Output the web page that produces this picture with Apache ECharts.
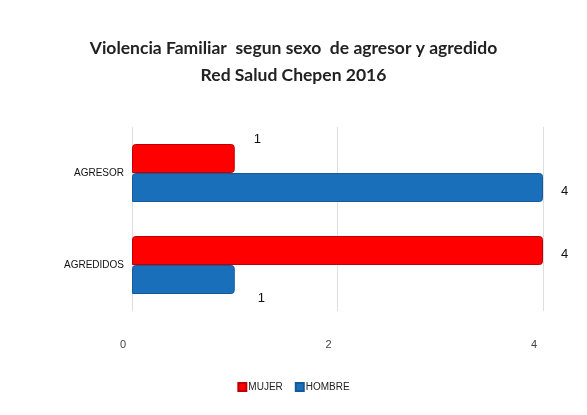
<!DOCTYPE html>
<html>
<head>
<meta charset="utf-8">
<script src="https://cdn.jsdelivr.net/npm/echarts@6/dist/echarts.min.js"></script>
<style>
	html,body{
		margin:0;
		padding:0;
		background:#fff;
	}
	#main{
		width:587px;
		height:415px;
	}
</style>
</head>
<body>
<div id="main"></div>
<script type="text/javascript">
// datos del grafico
var categorias = ['AGRESOR', 'AGREDIDOS'];
var mujer = [1, 4];
var hombre = [4, 1];
var ticks = [0, 2, 4];

// posicion de las etiquetas (leader labels del original)
var offMujer = [[14, -19], [13, 4]];
var offHombre = [[13, 4], [18, 19]];

function conEtiqueta(valores, offsets){
	var out = [];
	for(var i = 0; i < valores.length; i++){
		out.push({value: valores[i], label: {offset: offsets[i]}});
	}
	return out;
}

var myChart = echarts.init(document.getElementById('main'));
var option = {
	animation: false,
	backgroundColor: '#fff',
	title: {
		left: 'center',
		top: 30,
		text: 'Violencia Familiar  segun sexo  de agresor y agredido\nRed Salud Chepen 2016',
		textStyle: {
			fontFamily: 'Lato',
			fontWeight: 'bold',
			fontSize: 17.5,
			lineHeight: 27,
			color: '#222'
		}
	},
	legend: {
		left: 'center',
		top: 377,
		itemWidth: 8,
		itemHeight: 8,
		itemGap: 12,
		icon: 'rect',
		textStyle: {fontFamily: 'Liberation Sans', fontSize: 10, color: '#222', padding: [0, 0, 0, -3]},
		data: ['MUJER', 'HOMBRE']
	},
	grid: {
		left: 132,
		right: 44,
		top: 127,
		bottom: 104
	},
	xAxis: {
		type: 'value',
		min: ticks[0],
		max: ticks[ticks.length - 1],
		interval: ticks[1] - ticks[0],
		axisLine: {show: false},
		axisTick: {show: false},
		axisLabel: {margin: 28, color: '#444', fontFamily: 'Liberation Sans', fontSize: 11, padding: [0, 18, 0, 0]},
		splitLine: {lineStyle: {color: '#dedede'}}
	},
	yAxis: {
		type: 'category',
		inverse: true,
		data: categorias,
		axisLine: {show: false},
		axisTick: {show: false},
		axisLabel: {margin: 8, color: '#111', fontFamily: 'Liberation Sans', fontSize: 10}
	},
	series: [
		{
			name: 'MUJER',
			type: 'bar',
			barWidth: 29,
			barGap: '0%',
			data: conEtiqueta(mujer, offMujer),
			itemStyle: {color: '#fe0000', borderColor: '#c00000', borderWidth: 1, borderRadius: [3, 3, 3, 0]},
			label: {show: true, position: 'right', color: '#111', fontFamily: 'Liberation Sans', fontSize: 13}
		},
		{
			name: 'HOMBRE',
			type: 'bar',
			barWidth: 29,
			data: conEtiqueta(hombre, offHombre),
			itemStyle: {color: '#1a6fba', borderColor: '#145a9a', borderWidth: 1, borderRadius: [3, 3, 3, 0]},
			label: {show: true, position: 'right', color: '#111', fontFamily: 'Liberation Sans', fontSize: 13}
		}
	]
};
myChart.setOption(option);
</script>
</body>
</html>
